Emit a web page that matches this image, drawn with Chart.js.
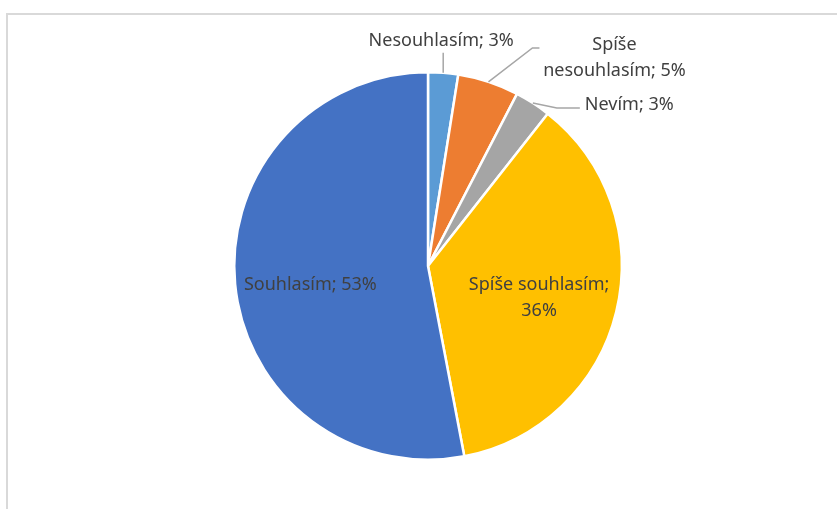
<!DOCTYPE html>
<html lang="cs">
<head>
    <meta charset="UTF-8">
    <title>Pie chart</title>
    <script src="https://cdn.jsdelivr.net/npm/chart.js"></script>
    <style>
        body { margin: 0; background: #fff; }
        #wrap { position: relative; width: 837px; height: 509px; overflow: hidden; }
        #frame { position: absolute; left: 6px; top: 13px; width: 900px; height: 600px;
                 border-left: 2px solid #d9d9d9; border-top: 2px solid #d9d9d9; }
        canvas { position: absolute; left: 0; top: 0; }
    </style>
</head>
<body>
<div id="wrap">
    <div id="frame"></div>
    <canvas id="myChart" width="837" height="509"></canvas>
</div>
<script>
    // data (clockwise from the top)
    const categories = ['Nesouhlasím', 'Spíše nesouhlasím', 'Nevím', 'Spíše souhlasím', 'Souhlasím'];
    const shares = [2.5, 5.1, 3.0, 36.4, 53.0];
    const percentLabels = ['3%', '5%', '3%', '36%', '53%'];
    const sliceColors = ['#5B9BD5', '#ED7D31', '#A5A5A5', '#FFC000', '#4472C4'];

    // how each label is broken into lines
    const labelLines = [
        ['Nesouhlasím; 3%'],
        ['Spíše', 'nesouhlasím; 5%'],
        ['Nevím; 3%'],
        ['Spíše souhlasím;', '36%'],
        ['Souhlasím; 53%']
    ];

    // placement of each label: inside the slice or outside with a leader line
    const placement = [
        { leader: [[0, -20]], text: [-2, -32], align: 'center' },
        { leader: [[44, -34], [51, -34]], text: [126, -37], align: 'center' },
        { leader: [[24, 5], [47, 5]], text: [52, 2], align: 'left' },
        { inside: 0.59, dy: 5 },
        { inside: 0.61, dy: 8 }
    ];

    const labelPlugin = {
        id: 'sliceLabels',
        afterDatasetsDraw(chart) {
            const ctx = chart.ctx;
            const meta = chart.getDatasetMeta(0);
            ctx.save();
            ctx.font = '18px "Noto Sans", sans-serif';
            ctx.fillStyle = '#404040';
            ctx.textBaseline = 'middle';
            const lh = 26;
            meta.data.forEach((arc, i) => {
                const p = placement[i];
                const mid = (arc.startAngle + arc.endAngle) / 2;
                const lines = labelLines[i];
                if (p.inside) {
                    const r = arc.outerRadius * p.inside;
                    const x = arc.x + Math.cos(mid) * r;
                    const y = arc.y + Math.sin(mid) * r + (p.dy || 0);
                    ctx.textAlign = 'center';
                    lines.forEach((t, k) => ctx.fillText(t, x, y + (k - (lines.length - 1) / 2) * lh));
                } else {
                    const ex = arc.x + Math.cos(mid) * arc.outerRadius;
                    const ey = arc.y + Math.sin(mid) * arc.outerRadius;
                    ctx.strokeStyle = '#a6a6a6';
                    ctx.lineWidth = 1.5;
                    ctx.beginPath();
                    ctx.moveTo(ex, ey);
                    p.leader.forEach(pt => ctx.lineTo(ex + pt[0], ey + pt[1]));
                    ctx.stroke();
                    ctx.textAlign = p.align;
                    lines.forEach((t, k) => ctx.fillText(t, ex + p.text[0], ey + p.text[1] + k * lh));
                }
            });
            ctx.restore();
        }
    };

    const ctx = document.getElementById('myChart').getContext('2d');
    const myChart = new Chart(ctx, {
        type: 'pie',
        data: {
            labels: categories,
            datasets: [{
                data: shares,
                backgroundColor: sliceColors,
                borderColor: '#ffffff',
                borderWidth: 2.5
            }]
        },
        options: {
            responsive: false,
            animation: false,
            layout: { padding: { left: 233, right: 214, top: 71, bottom: 48 } },
            plugins: {
                legend: { display: false },
                tooltip: { enabled: false }
            }
        },
        plugins: [labelPlugin]
    });
</script>
</body>
</html>
